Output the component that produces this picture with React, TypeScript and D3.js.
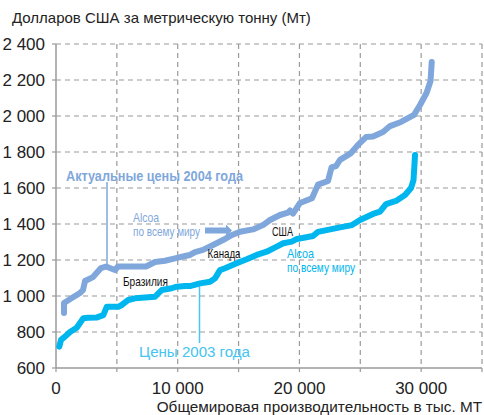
import React from "react";
import * as d3 from "d3";

const W = 484;
const H = 415;

// Cost curves: [cumulative production (thousand MT), price USD/MT]
const prices2004: [number, number][] = [
  [657, 905], [657, 961], [1232, 986], [1972, 1017], [2218, 1033], [2383, 1083],
  [3040, 1105], [3697, 1155], [4108, 1164], [4848, 1144], [5094, 1164], [7395, 1164],
  [8134, 1189], [8956, 1196], [9778, 1209], [10599, 1222], [11010, 1228], [11421, 1244],
  [12078, 1256], [12900, 1283], [13721, 1311], [14460, 1339], [15118, 1357], [16186, 1370],
  [17007, 1394], [17582, 1422], [18404, 1450], [19061, 1463], [19226, 1475], [19472, 1458],
  [20047, 1517], [21033, 1543], [21526, 1619], [22348, 1639], [22636, 1714], [23005, 1722],
  [23334, 1756], [24238, 1794], [24813, 1839], [25471, 1883], [26046, 1886], [26867, 1911],
  [27443, 1944], [28347, 1967], [29415, 2006], [29908, 2061], [30442, 2128], [30771, 2194],
  [30870, 2300],
];

const prices2003: [number, number][] = [
  [271, 719], [411, 756], [739, 774], [1150, 800], [1701, 824], [2243, 876], [2629, 879],
  [3369, 881], [3886, 894], [4166, 940], [5119, 940], [5398, 950], [5940, 978], [6491, 987],
  [8134, 996], [8406, 1015], [8685, 1033], [9506, 1043], [9917, 1052], [10599, 1055],
  [11010, 1055], [11832, 1070], [12653, 1079], [13064, 1098], [13475, 1144], [13885, 1154],
  [14847, 1182], [15668, 1204], [16490, 1228], [17311, 1246], [18133, 1274], [18676, 1293],
  [19366, 1302], [19801, 1317], [21116, 1333], [21526, 1356], [23334, 1381], [24320, 1394],
  [24977, 1422], [26046, 1456], [26621, 1469], [27114, 1511], [27936, 1528], [28675, 1561],
  [29168, 1600], [29373, 1644], [29497, 1783],
];

const yTicks = [600, 800, 1000, 1200, 1400, 1600, 1800, 2000, 2200, 2400];
const xGrid = [0, 5000, 10000, 15000, 20000, 25000, 30000, 35000];
const xLabels = [0, 10000, 20000, 30000];

const title = "Долларов США за метрическую тонну (Мт)";
const xTitle = "Общемировая производительность в тыс. МТ";
const label2004 = "Актуальные цены 2004 года";
const label2003 = "Цены 2003 года";
const alcoaLines = ["Alcoa", "по всему миру"];
const alcoaWidths = [26, 67];
const countries: { name: string; x: number; y: number; w: number }[] = [
  { name: "Бразилия", x: 5500, y: 1055, w: 45 },
  { name: "Канада", x: 12450, y: 1211, w: 33 },
  { name: "США", x: 17750, y: 1333, w: 21 },
];

const fmt = (v: number) => d3.format(",")(v).replace(/,/g, " ");

const C2004 = "#7fa7db";
const C2003 = "#00b6ee";
const FONT = "Arial, 'Liberation Sans', sans-serif";

export default function App() {
  const x = d3.scaleLinear().domain([0, 35000]).range([56, 482]);
  const y = d3.scaleLinear().domain([600, 2400]).range([368, 44]);
  const line = d3
    .line<[number, number]>()
    .x((d) => x(d[0]))
    .y((d) => y(d[1]));

  const arrowY = y(1364);
  const ax0 = x(12242);
  const ax1 = x(14460);

  return (
    <svg
      width={W}
      height={H}
      style={{ position: "absolute", left: 0, top: 0, background: "#fff" }}
      fontFamily={FONT}
    >
      <rect width={W} height={H} fill="#fff" />
      {/* grid */}
      {yTicks.slice(1).map((t) => (
        <line
          key={"hy" + t}
          x1={x(0)}
          x2={x(35000)}
          y1={y(t)}
          y2={y(t)}
          stroke="#9a9a9a"
          strokeWidth={1.2}
          strokeDasharray="5,4"
        />
      ))}
      {xGrid.slice(1).map((t) => (
        <line
          key={"vx" + t}
          x1={x(t)}
          x2={x(t)}
          y1={y(2400)}
          y2={y(600)}
          stroke="#9a9a9a"
          strokeWidth={1.2}
          strokeDasharray="5,4"
        />
      ))}
      {/* axes */}
      <line x1={x(0)} x2={x(0)} y1={y(2400)} y2={y(600)} stroke="#9a9a9a" strokeWidth={1.5} />
      <line x1={x(0)} x2={x(35000)} y1={y(600)} y2={y(600)} stroke="#9a9a9a" strokeWidth={1.5} />
      {yTicks.map((t) => (
        <line key={"ty" + t} x1={x(0) - 4} x2={x(0)} y1={y(t)} y2={y(t)} stroke="#9a9a9a" strokeWidth={1.2} />
      ))}
      {xGrid.map((t) => (
        <line key={"tx" + t} x1={x(t)} x2={x(t)} y1={y(600)} y2={y(600) + 4} stroke="#9a9a9a" strokeWidth={1.2} />
      ))}
      {yTicks.map((t) => (
        <text key={"ly" + t} x={45} y={y(t) + 6} textAnchor="end" fontSize={17} fill="#222">
          {fmt(t)}
        </text>
      ))}
      {xLabels.map((t) => (
        <text key={"lx" + t} x={x(t)} y={394} textAnchor="middle" fontSize={17} fill="#222">
          {fmt(t)}
        </text>
      ))}
      <text x={12} y={23} fontSize={15} fill="#222">
        {title}
      </text>
      <text x={482} y={412} textAnchor="end" fontSize={15.3} fill="#222">
        {xTitle}
      </text>

      {/* leader lines */}
      <line x1={x(4190)} x2={x(4190)} y1={y(1633)} y2={y(1164)} stroke={C2004} strokeWidth={1.5} />
      <line x1={x(11790)} x2={x(11790)} y1={y(1055)} y2={y(739)} stroke="#4cc6f0" strokeWidth={1.5} />

      {/* curves */}
      <path d={line(prices2004) ?? ""} fill="none" stroke={C2004} strokeWidth={6} strokeLinejoin="round" strokeLinecap="round" />
      <path d={line(prices2003) ?? ""} fill="none" stroke={C2003} strokeWidth={6} strokeLinejoin="round" strokeLinecap="round" />

      {/* annotations */}
      <text x={66} y={181} fontSize={14} fontWeight="bold" fill={C2004} textLength={177} lengthAdjust="spacingAndGlyphs">
        {label2004}
      </text>
      <text x={139} y={357} fontSize={15.5} fill="#44c4f0" textLength={111} lengthAdjust="spacingAndGlyphs">
        {label2003}
      </text>
      {alcoaLines.map((s, i) => (
        <text key={"a1" + i} x={133} y={221.5 + i * 14} fontSize={13} fill={C2004} textLength={alcoaWidths[i]} lengthAdjust="spacingAndGlyphs">
          {s}
        </text>
      ))}
      {alcoaLines.map((s, i) => (
        <text key={"a2" + i} x={287} y={257.5 + i * 14} fontSize={13} fill={C2003} textLength={alcoaWidths[i] + 1} lengthAdjust="spacingAndGlyphs">
          {s}
        </text>
      ))}
      <path
        d={`M${ax0},${arrowY - 3}L${ax1 - 6},${arrowY - 3}L${ax1 - 6},${arrowY - 6}L${ax1},${arrowY}L${ax1 - 6},${arrowY + 6}L${ax1 - 6},${arrowY + 3}L${ax0},${arrowY + 3}Z`}
        fill={C2004}
      />
      {countries.map((c) => (
        <text key={c.name} x={x(c.x)} y={y(c.y)} fontSize={13} fill="#111" textLength={c.w} lengthAdjust="spacingAndGlyphs">
          {c.name}
        </text>
      ))}
    </svg>
  );
}
